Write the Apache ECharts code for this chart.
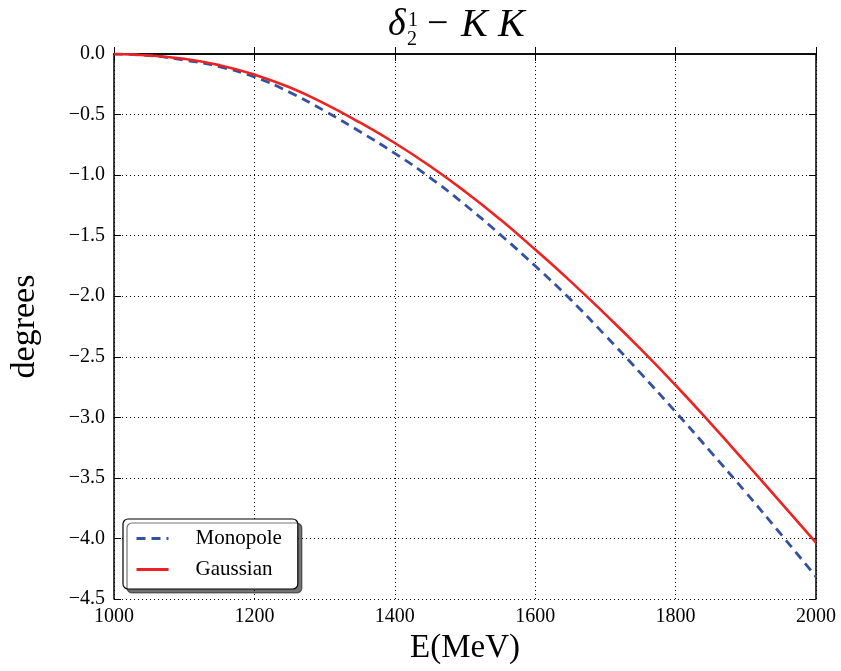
<!DOCTYPE html>
<html>
<head>
<meta charset="utf-8">
<script src="https://cdn.jsdelivr.net/npm/echarts@6/dist/echarts.min.js"></script>
<style>html,body{margin:0;padding:0;background:#fff}#c{width:841px;height:671px}</style>
</head>
<body>
<div id="c"></div>
<script>
const energies = [1000,1050,1100,1150,1200,1250,1300,1350,1400,1450,1500,1550,1600,1650,1700,1750,1800,1850,1900,1950,2000];
const monopole = [0,-0.013,-0.05,-0.105,-0.19,-0.315,-0.47,-0.64,-0.82,-1.02,-1.245,-1.49,-1.75,-2.025,-2.325,-2.635,-2.955,-3.285,-3.62,-3.965,-4.315];
const gaussian = [0,-0.012,-0.04,-0.092,-0.17,-0.275,-0.41,-0.565,-0.735,-0.925,-1.135,-1.365,-1.615,-1.875,-2.15,-2.435,-2.735,-3.05,-3.375,-3.705,-4.035];
const seriesNames = ['Monopole','Gaussian'];
const xTicks = {min:1000,max:2000,step:200};
const yTicks = {min:-4.5,max:0,step:0.5};

const serif = 'Liberation Serif';
const chart = echarts.init(document.getElementById('c'));
const pair = a => energies.map((e,i)=>[e,a[i]]);
const fmtY = v => (v<0?'\u2212':'') + Math.abs(v).toFixed(1);
const fmtX = v => String(v);
const tickStyle = {show:true, inside:true, length:7, lineStyle:{color:'#000',width:1}};
const axisLine = {show:true, lineStyle:{color:'#000',width:1.5}};
chart.setOption({
  animation:false,
  backgroundColor:'#fff',
  grid:{left:113, top:54, right:25, bottom:72, containLabel:false},
  graphic:[
    {type:'text', left:388, top:6, style:{text:'\u03b4', font:'italic 38px "Liberation Serif"', fill:'#000'}},
    {type:'text', left:408, top:11, style:{text:'1', font:'20px "Liberation Serif"', fill:'#000'}},
    {type:'text', left:407, top:30, style:{text:'2', font:'20px "Liberation Serif"', fill:'#000'}},
    {type:'text', left:427, top:6, style:{text:'\u2212', font:'38px "Liberation Serif"', fill:'#000'}},
    {type:'text', left:461, top:5, style:{text:'K', font:'italic 40px "Liberation Serif"', fill:'#000'}},
    {type:'text', left:498, top:5, style:{text:'K', font:'italic 40px "Liberation Serif"', fill:'#000'}}
  ],
  legend:{
    left:123, top:519, orient:'vertical',
    data:seriesNames,
    itemWidth:32, itemHeight:20, itemGap:10,
    padding:[9,16,9,12],
    itemStyle:{opacity:0},
    lineStyle:{width:3},
    backgroundColor:'#fff', borderColor:'#000', borderWidth:1.2, borderRadius:5,
    shadowColor:'rgba(0,0,0,0.55)', shadowBlur:0, shadowOffsetX:4, shadowOffsetY:4,
    textStyle:{fontFamily:serif, fontSize:21, color:'#000', padding:[0,0,0,22]}
  },
  xAxis:[{
    type:'value', min:xTicks.min, max:xTicks.max, interval:xTicks.step,
    name:'E(MeV)', nameLocation:'middle', nameGap:32,
    nameTextStyle:{fontFamily:serif, fontSize:33, color:'#000', verticalAlign:'top'},
    axisLine:axisLine, axisTick:tickStyle,
    axisLabel:{fontFamily:serif, fontSize:20, color:'#000', margin:8, formatter:fmtX},
    splitLine:{show:true, lineStyle:{color:'#000', type:[1,3], width:1}}
  },{
    type:'value', position:'top', min:xTicks.min, max:xTicks.max, interval:xTicks.step,
    axisLine:axisLine, axisTick:tickStyle, axisLabel:{show:false}, splitLine:{show:false}
  }],
  yAxis:[{
    type:'value', min:yTicks.min, max:yTicks.max, interval:yTicks.step,
    name:'degrees', nameLocation:'middle', nameGap:72, nameRotate:90,
    nameTextStyle:{fontFamily:serif, fontSize:34, color:'#000'},
    axisLine:axisLine, axisTick:tickStyle,
    axisLabel:{fontFamily:serif, fontSize:20, color:'#000', margin:9, formatter:fmtY},
    splitLine:{show:true, lineStyle:{color:'#000', type:[1,3], width:1}}
  },{
    type:'value', position:'right', min:yTicks.min, max:yTicks.max, interval:yTicks.step,
    axisLine:axisLine, axisTick:tickStyle, axisLabel:{show:false}, splitLine:{show:false}
  }],
  series:[
    {name:seriesNames[0], type:'line', data:pair(monopole), smooth:true, symbol:'none',
     lineStyle:{color:'#3450a0', width:2.8, type:[9,6]}, itemStyle:{color:'#3450a0'}, z:3},
    {name:seriesNames[1], type:'line', data:pair(gaussian), smooth:true, symbol:'none',
     lineStyle:{color:'#ee2222', width:2.6}, itemStyle:{color:'#ee2222'}, z:4}
  ]
});
</script>
</body>
</html>
